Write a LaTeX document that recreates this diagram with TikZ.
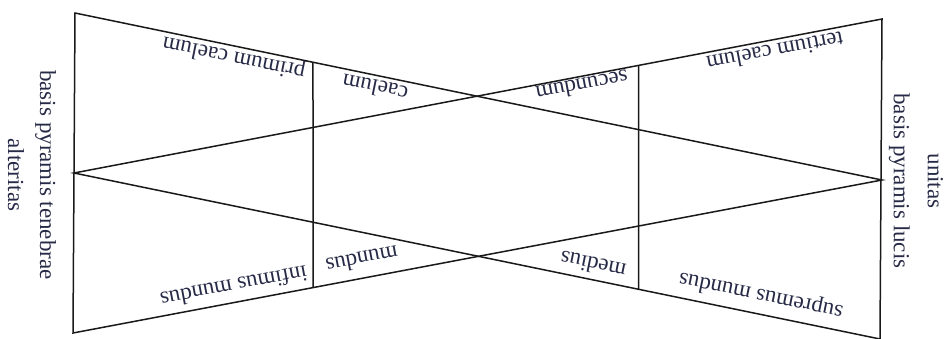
\documentclass[tikz,border=0pt]{standalone}
\usepackage{fontspec}
\setmainfont{Liberation Serif}
\usetikzlibrary{calc}
\definecolor{ink}{RGB}{38,42,70}
\definecolor{linec}{RGB}{25,25,25}
\begin{document}
\begin{tikzpicture}[x=1pt,y=-1pt,
  edge/.style={line width=1.5pt, draw=linec, line join=miter},
  lbl/.style={text=ink, font=\fontsize{23}{28}\selectfont, inner sep=0pt}]
\useasboundingbox (0,0) rectangle (946,338);
\coordinate (TL) at (75,13);
\coordinate (LA) at (74,173);
\coordinate (BL) at (73,333);
\coordinate (TR) at (882,19);
\coordinate (RA) at (882,180);
\coordinate (BR) at (880,339);
\coordinate (A1) at ($(TL)!0.2949!(RA)$);
\coordinate (A2) at ($(BL)!0.2967!(RA)$);
\coordinate (B1) at ($(LA)!0.6989!(TR)$);
\coordinate (B2) at ($(LA)!0.7006!(BR)$);
\draw[edge] (RA) -- (TL) -- (BL) -- cycle;
\draw[edge] (LA) -- (TR) -- (BR) -- cycle;
\draw[edge] (A1) -- (A2);
\draw[edge] (B1) -- (B2);
\node[lbl, rotate=168.3] (primum) at (234,57) {primum caelum};
\node[lbl, rotate=168.3] (caelum) at (375,88) {caelum};
\node[lbl, rotate=190.8] (secundum) at (582,86) {secundum};
\node[lbl, rotate=190.8] (tertium) at (775,52) {tertium caelum};
\node[lbl, rotate=190.7] (infimus) at (234,287) {infimus mundus};
\node[lbl, rotate=190.7] (mundus) at (362,260) {mundus};
\node[lbl, rotate=168.35] (medius) at (593,265) {medius};
\node[lbl, rotate=168.35] (supremus) at (761,295) {supremus mundus};
\node[lbl, rotate=-90, align=center, font=\fontsize{23}{32}\selectfont] (leftlbl) at (32,175) {basis pyramis tenebrae\\alteritas};
\node[lbl, rotate=-90, align=center, font=\fontsize{23}{34}\selectfont] (rightlbl) at (916,181) {unitas\\basis pyramis lucis};
\end{tikzpicture}
\end{document}
